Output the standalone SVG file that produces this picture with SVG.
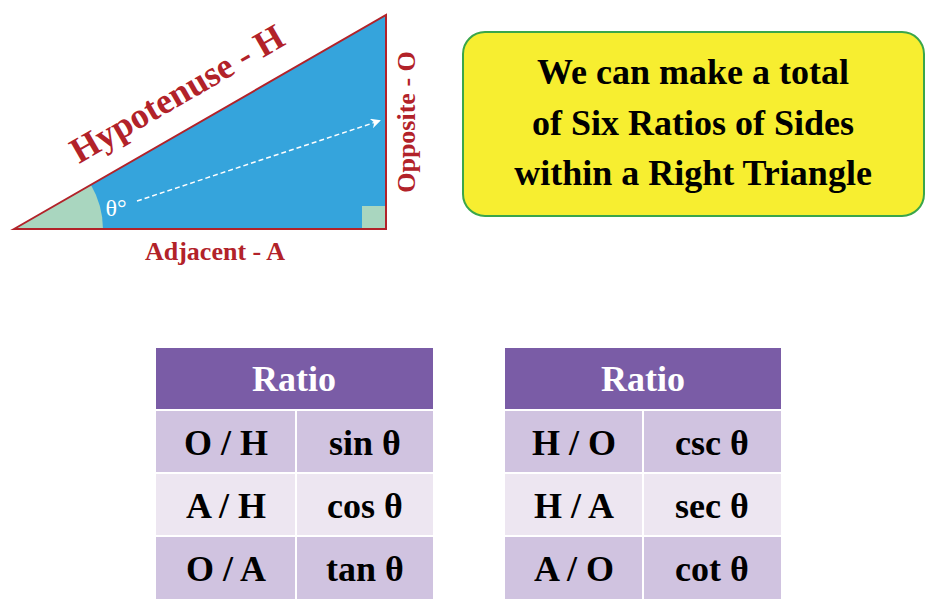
<svg xmlns="http://www.w3.org/2000/svg" width="938" height="614" viewBox="0 0 938 614">
<style>
.r{font-family:"Liberation Serif",serif;font-weight:bold;fill:#b22229}
.t{font-family:"Liberation Serif",serif;font-weight:bold;font-size:36px;fill:#000;text-anchor:middle}
.h{font-family:"Liberation Serif",serif;font-weight:bold;font-size:36px;fill:#fff;text-anchor:middle}
.c{font-family:"Liberation Serif",serif;font-weight:bold;font-size:36px;fill:#000;text-anchor:middle}
.d{fill:#d0c3e0}.l{fill:#ede6f1}.p{fill:#7a5ca6}
.g{stroke:#fff;stroke-width:2;fill:none}
</style>
<defs><marker id="ah" markerWidth="10" markerHeight="10" refX="8" refY="5" orient="auto" markerUnits="userSpaceOnUse"><path d="M0,0 L10,5 L0,10 L3,5 Z" fill="#fff"/></marker></defs>
<g id="triangle">
<polygon points="14,229 386,15 386,229" fill="#35a4dc"/>
<path d="M14,229 L91,185 A89,89 0 0 1 103,229 Z" fill="#a9d6bf"/>
<rect x="362" y="206" width="24" height="23" fill="#a9d6bf"/>
<polygon points="14,229 386,15 386,229" fill="none" stroke="#b22229" stroke-width="2"/>
<text x="116" y="216" font-family="Liberation Serif,serif" font-size="24" fill="#fff" text-anchor="middle">θ°</text>
<text class="r" font-size="36" text-anchor="middle" transform="translate(183,104) rotate(-30)">Hypotenuse - H</text>
<text class="r" font-size="26" text-anchor="middle" transform="translate(415,122) rotate(-90)">Opposite - O</text>
<text class="r" font-size="26" x="215" y="260" text-anchor="middle">Adjacent - A</text>
</g>
<g id="connectors">
<path d="M137,201 L379,121" stroke="#fff" stroke-width="1.5" stroke-dasharray="5,3" fill="none" marker-end="url(#ah)"/>
</g>
<g id="note">
<rect x="463" y="32" width="461" height="184" rx="22" fill="#f7ee30" stroke="#3aa64a" stroke-width="2"/>
<text class="t" x="693" y="84">We can make a total</text>
<text class="t" x="693" y="135">of Six Ratios of Sides</text>
<text class="t" x="693" y="185">within a Right Triangle</text>
</g>
<g id="table1">
<rect class="p" x="156" y="348" width="277" height="62"/>
<rect class="d" x="156" y="410" width="277" height="63"/>
<rect class="l" x="156" y="473" width="277" height="63"/>
<rect class="d" x="156" y="536" width="277" height="63"/>
<path class="g" d="M156,410H433M156,473H433M156,536H433M296,410V599"/>
<text class="h" x="294" y="391">Ratio</text>
<text class="c" x="226" y="455">O / H</text><text class="c" x="365" y="455">sin θ</text>
<text class="c" x="226" y="518">A / H</text><text class="c" x="365" y="518">cos θ</text>
<text class="c" x="226" y="581">O / A</text><text class="c" x="365" y="581">tan θ</text>
</g>
<g id="table2">
<rect class="p" x="505" y="348" width="276" height="62"/>
<rect class="d" x="505" y="410" width="276" height="63"/>
<rect class="l" x="505" y="473" width="276" height="63"/>
<rect class="d" x="505" y="536" width="276" height="63"/>
<path class="g" d="M505,410H781M505,473H781M505,536H781M643,410V599"/>
<text class="h" x="643" y="391">Ratio</text>
<text class="c" x="574" y="455">H / O</text><text class="c" x="712" y="455">csc θ</text>
<text class="c" x="574" y="518">H / A</text><text class="c" x="712" y="518">sec θ</text>
<text class="c" x="574" y="581">A / O</text><text class="c" x="712" y="581">cot θ</text>
</g>
</svg>
